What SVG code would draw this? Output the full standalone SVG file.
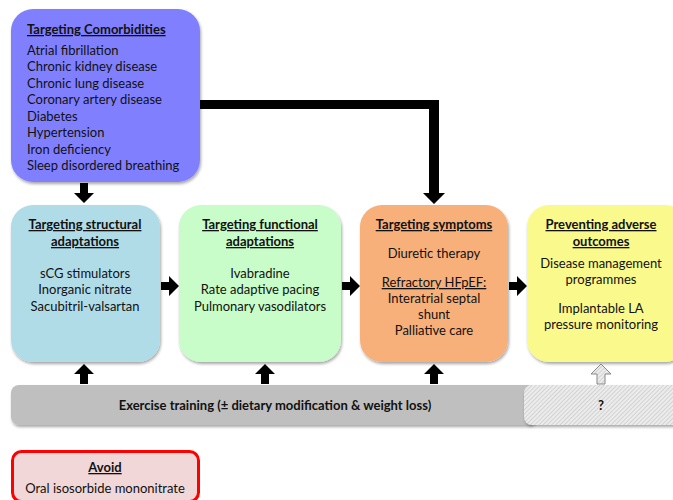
<svg xmlns="http://www.w3.org/2000/svg" width="673" height="500" viewBox="0 0 673 500">
<defs>
<style>
text{font-family:Lato,"Open Sans","Liberation Sans",sans-serif;font-size:13px;fill:#111;}
.c{text-anchor:middle;}
.b{font-weight:bold;}
.u{text-decoration:underline;}
.box{filter:url(#sh);}
.arr{fill:#000;}
</style>
<filter id="sh" x="-10%" y="-10%" width="130%" height="130%">
<feGaussianBlur in="SourceAlpha" stdDeviation="1.5"/>
<feOffset dx="1" dy="2" result="o"/>
<feComponentTransfer><feFuncA type="linear" slope="0.35"/></feComponentTransfer>
<feMerge><feMergeNode/><feMergeNode in="SourceGraphic"/></feMerge>
</filter>
<pattern id="hatch" width="3" height="3" patternUnits="userSpaceOnUse" patternTransform="rotate(45)">
<rect width="3" height="3" fill="#ececec"/>
<line x1="0" y1="0" x2="0" y2="3" stroke="#b8b8b8" stroke-width="1"/>
</pattern>
</defs>
<rect width="673" height="500" fill="#fff"/>

<g id="comorbidities">
<rect class="box" x="11" y="9" width="189" height="173" rx="22" fill="#8080FF"/>
<text x="27" y="34" class="b u">Targeting Comorbidities</text>
<text x="27" y="55">Atrial fibrillation</text>
<text x="27" y="71">Chronic kidney disease</text>
<text x="27" y="88">Chronic lung disease</text>
<text x="27" y="104">Coronary artery disease</text>
<text x="27" y="121">Diabetes</text>
<text x="27" y="137">Hypertension</text>
<text x="27" y="154">Iron deficiency</text>
<text x="27" y="170">Sleep disordered breathing</text>
</g>

<g id="structural">
<rect class="box" x="11" y="205" width="149" height="157" rx="22" fill="#B0DCE8"/>
<text x="85" y="229" class="c b u">Targeting structural</text>
<text x="85" y="246" class="c b u">adaptations</text>
<text x="85" y="278" class="c">sCG stimulators</text>
<text x="85" y="294" class="c">Inorganic nitrate</text>
<text x="85" y="311" class="c">Sacubitril-valsartan</text>
</g>

<g id="functional">
<rect class="box" x="179" y="205" width="162" height="157" rx="22" fill="#C8FCC8"/>
<text x="260" y="229" class="c b u">Targeting functional</text>
<text x="260" y="246" class="c b u">adaptations</text>
<text x="260" y="278" class="c">Ivabradine</text>
<text x="260" y="294" class="c">Rate adaptive pacing</text>
<text x="260" y="311" class="c">Pulmonary vasodilators</text>
</g>

<g id="symptoms">
<rect class="box" x="360" y="205" width="148" height="157" rx="22" fill="#F8B07A"/>
<text x="434" y="229" class="c b u">Targeting symptoms</text>
<text x="434" y="258" class="c">Diuretic therapy</text>
<text x="434" y="287" class="c u">Refractory HFpEF:</text>
<text x="434" y="303" class="c">Interatrial septal</text>
<text x="434" y="319" class="c">shunt</text>
<text x="434" y="335" class="c">Palliative care</text>
</g>

<g id="outcomes">
<rect class="box" x="527" y="205" width="160" height="157" rx="22" fill="#FAFA8C"/>
<text x="601" y="229" class="c b u">Preventing adverse</text>
<text x="601" y="246" class="c b u">outcomes</text>
<text x="601" y="268" class="c">Disease management</text>
<text x="601" y="284" class="c">programmes</text>
<text x="601" y="313" class="c">Implantable LA</text>
<text x="601" y="329" class="c">pressure monitoring</text>
</g>

<g id="exercise">
<rect class="box" x="11" y="385" width="525" height="40" rx="8" fill="#BFBFBF"/>
<text x="275" y="410" class="c b">Exercise training (± dietary modification &amp; weight loss)</text>
</g>

<g id="unknown">
<rect class="box" x="524" y="385" width="160" height="40" rx="8" fill="url(#hatch)"/>
<text x="601" y="410" class="c b">?</text>
</g>

<g id="avoid">
<rect x="12.5" y="451.5" width="186" height="50" rx="9" fill="#F2D7D8" stroke="#FF0000" stroke-width="3"/>
<text x="105" y="472" class="c b u">Avoid</text>
<text x="105" y="493" class="c">Oral isosorbide mononitrate</text>
</g>

<g id="connectors">
<!-- elbow from comorbidities to symptoms -->
<polygon class="arr" points="200,100 439,100 439,193 445,193 434,204 423,193 429,193 429,109 200,109"/>
<!-- down arrow comorbidities to structural -->
<polygon class="arr" points="80,183 88,183 88,193 94,193 84,203 74,193 80,193"/>
<!-- right arrows -->
<polygon class="arr" points="161,282 169,282 169,276 179,286 169,296 169,290 161,290"/>
<polygon class="arr" points="342,282 350,282 350,276 360,286 350,296 350,290 342,290"/>
<polygon class="arr" points="509,282 517,282 517,276 527,286 517,296 517,290 509,290"/>
<!-- up arrows from bar -->
<polygon class="arr" points="80,384 88,384 88,374 94,374 84,364 74,374 80,374"/>
<polygon class="arr" points="261,384 269,384 269,374 275,374 265,364 255,374 261,374"/>
<polygon class="arr" points="430,384 438,384 438,374 444,374 434,364 424,374 430,374"/>
<polygon points="597,384 605,384 605,374 611,374 601,364 591,374 597,374" fill="url(#hatch)" stroke="#888" stroke-width="1"/>
</g>
</svg>
